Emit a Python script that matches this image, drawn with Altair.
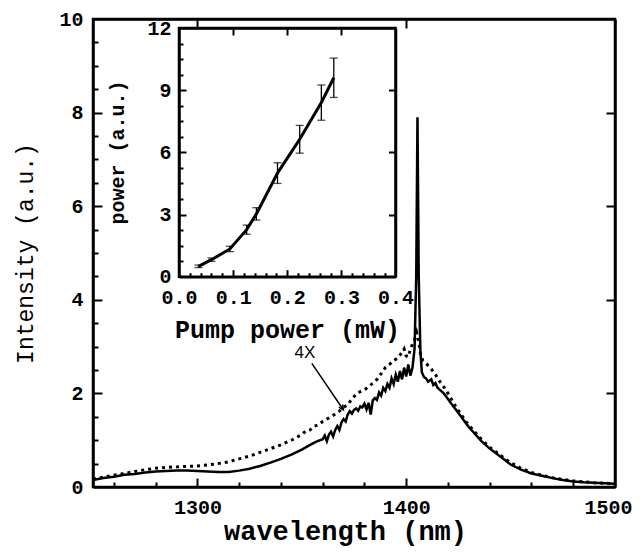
import altair as alt
import pandas as pd

MONO = "Liberation Mono"

# ---- main spectrum: solid curve (above threshold) ----
wl_solid = [1250, 1255, 1260, 1265, 1270, 1275, 1280, 1285, 1290, 1295, 1300, 1305, 1310, 1315,
            1320, 1325, 1330, 1335, 1340, 1345, 1350, 1354, 1357, 1360, 1361, 1362, 1363, 1364,
            1365, 1366, 1367, 1368, 1369, 1370, 1371, 1372, 1373, 1374, 1375, 1376, 1377, 1378,
            1379, 1380, 1381, 1382, 1383, 1384, 1385, 1386, 1387, 1388, 1389, 1390, 1391, 1392,
            1393, 1394, 1395, 1396, 1397, 1398, 1399, 1400, 1401, 1402, 1403, 1404, 1404.8,
            1405.4, 1406, 1406.8, 1407.5, 1408.5, 1409.5, 1410.5, 1412, 1413, 1414, 1415, 1416,
            1418, 1420, 1422, 1424, 1426, 1428, 1430, 1432, 1434, 1436, 1438, 1440, 1443, 1446,
            1450, 1455, 1460, 1465, 1470, 1475, 1480, 1485, 1490, 1495, 1500]
int_solid = [0.15, 0.19, 0.22, 0.26, 0.28, 0.31, 0.33, 0.34, 0.35, 0.35, 0.34, 0.33, 0.32, 0.32,
             0.35, 0.39, 0.45, 0.52, 0.60, 0.69, 0.80, 0.90, 0.97, 1.02, 1.10, 0.98, 1.12, 1.18,
             1.08, 1.22, 1.30, 1.22, 1.38, 1.45, 1.40, 1.55, 1.62, 1.57, 1.65, 1.68, 1.63, 1.72,
             1.70, 1.78, 1.66, 1.80, 1.55, 1.85, 1.90, 1.86, 2.02, 1.95, 2.12, 2.05, 2.20, 2.12,
             2.32, 2.20, 2.40, 2.25, 2.48, 2.30, 2.55, 2.36, 2.62, 2.38, 2.55, 2.95, 4.5,
             7.9, 4.5, 2.9, 2.45, 2.35, 2.32, 2.25, 2.30, 2.18, 2.22, 2.12, 2.08,
             2.00, 1.88, 1.76, 1.64, 1.52, 1.40, 1.28, 1.18, 1.08, 0.98, 0.90, 0.82, 0.72, 0.62,
             0.48, 0.37, 0.29, 0.24, 0.19, 0.15, 0.12, 0.10, 0.09, 0.08, 0.07]

# ---- main spectrum: dotted curve (4X, below threshold) ----
wl_dot = [1250, 1255, 1260, 1265, 1270, 1275, 1280, 1285, 1290, 1295, 1300, 1305, 1310, 1315,
          1320, 1325, 1330, 1335, 1340, 1345, 1350, 1352, 1354, 1356, 1358, 1360, 1362, 1364,
          1366, 1368, 1370, 1372, 1374, 1376, 1378, 1380, 1382, 1384, 1386, 1388, 1390, 1392,
          1394, 1396, 1398, 1399, 1400, 1401, 1402, 1403, 1404, 1405, 1406, 1407, 1408, 1410,
          1412, 1414, 1416, 1418, 1420, 1422, 1424, 1426, 1428, 1430, 1432, 1434, 1436, 1438,
          1440, 1443, 1446, 1450, 1455, 1460, 1465, 1470, 1475, 1480, 1485, 1490, 1495, 1500]
int_dot = [0.17, 0.21, 0.25, 0.29, 0.33, 0.37, 0.40, 0.42, 0.43, 0.44, 0.45, 0.47, 0.50, 0.54,
           0.60, 0.66, 0.74, 0.82, 0.90, 1.00, 1.12, 1.20, 1.22, 1.30, 1.33, 1.40, 1.45, 1.50,
           1.56, 1.62, 1.70, 1.76, 1.88, 1.98, 2.04, 2.08, 2.14, 2.22, 2.30, 2.42, 2.55, 2.62,
           2.70, 2.76, 2.88, 2.95, 2.80, 2.78, 2.95, 3.05, 3.15, 3.30, 3.10, 2.80, 2.70, 2.62,
           2.52, 2.40, 2.26, 2.14, 2.00, 1.85, 1.70, 1.57, 1.44, 1.32, 1.22, 1.12, 1.02, 0.93,
           0.85, 0.75, 0.65, 0.52, 0.40, 0.31, 0.25, 0.20, 0.16, 0.13, 0.11, 0.09, 0.08, 0.07]

# ---- inset: output power vs pump power ----
pump = [0.036, 0.060, 0.094, 0.125, 0.143, 0.182, 0.223, 0.263, 0.286]
outp = [0.50, 0.82, 1.34, 2.27, 3.03, 5.00, 6.63, 8.40, 9.60]
err = [0.06, 0.08, 0.13, 0.22, 0.30, 0.50, 0.67, 0.85, 0.95]

# annotation
note_text = ["4X"]
note_x = [1351.5]
note_y = [2.86]
arrow_x = [1354.8]
arrow_y = [2.64]
arrow_x2 = [1369.9]
arrow_y2 = [1.65]

# tick positions
main_x_labels = [1300, 1400, 1500]
main_y_labels = [0, 2, 4, 6, 8, 10]
main_x_major = [1300, 1400]
main_x_minor = [1260, 1280, 1320, 1340, 1360, 1380, 1420, 1440, 1460, 1480]
main_y_major = [2, 4, 6, 8]
main_y_minor = [0.5, 1, 1.5, 2.5, 3, 3.5, 4.5, 5, 5.5, 6.5, 7, 7.5, 8.5, 9, 9.5]
inset_x_labels = [0, 0.1, 0.2, 0.3, 0.4]
inset_y_labels = [0, 3, 6, 9, 12]
inset_x_major = [0.1, 0.2, 0.3]
inset_x_minor = [0.02, 0.04, 0.06, 0.08, 0.12, 0.14, 0.16, 0.18, 0.22, 0.24, 0.26, 0.28,
                 0.32, 0.34, 0.36, 0.38]
inset_y_major = [3, 6, 9]
inset_y_minor = [0.75, 1.5, 2.25, 3.75, 4.5, 5.25, 6.75, 7.5, 8.25, 9.75, 10.5, 11.25]

W, H = 522, 468
IX0, IX1 = 86, 302.5      # inset plot box (pixels inside the main plot area)
IY0, IY1 = 257.7, 9


def mx():
    return alt.Scale(domain=[1250, 1500], range=[0, W], nice=False, zero=False)


def my():
    return alt.Scale(domain=[0, 10], range=[H, 0], nice=False)


def ix():
    return alt.Scale(domain=[0, 0.4], range=[IX0, IX1], nice=False, zero=False)


def iy():
    return alt.Scale(domain=[0, 12], range=[IY0, IY1], nice=False)


def frame_axis(orient, offset, values, test, major, minor, width):
    # unlabelled axis used as a frame edge with inward ticks
    return alt.Axis(orient=orient, offset=offset, values=values, labels=False, title="",
                    grid=False, domain=True, domainColor="black", domainWidth=width,
                    ticks=True, tickColor="black", tickWidth=2,
                    tickSize=alt.condition(test, alt.value(major), alt.value(minor)),
                    zindex=1)


# ---------------- main panel ----------------
solid_df = pd.DataFrame({"wl": wl_solid, "val": int_solid})
dot_df = pd.DataFrame({"wl": wl_dot, "val": int_dot})

main_x_axis = alt.Axis(values=main_x_labels, format="d", orient="bottom", domain=False, ticks=False,
                       grid=False, labelFont=MONO, labelFontWeight="bold", labelFontSize=20,
                       labelPadding=10, labelFlush=True, labelFlushOffset=17, labelColor="black",
                       title="wavelength (nm)", titleFont=MONO, titleFontWeight="bold",
                       titleFontSize=27, titleColor="black", titleX=252, titleY=44,
                       titleBaseline="middle")
main_y_axis = alt.Axis(values=main_y_labels, format="d", orient="left", domain=False, ticks=False,
                       grid=False, labelFont=MONO, labelFontWeight="bold", labelFontSize=20,
                       labelPadding=10, labelFlush=False, labelColor="black",
                       title="Intensity (a.u.)", titleFont=MONO, titleFontWeight="normal",
                       titleFontSize=23, titleColor="black", titleX=-68, titleY=234,
                       titleAngle=270, titleBaseline="middle")

solid = alt.Chart(solid_df).mark_line(color="black", strokeWidth=2.5).encode(
    x=alt.X("wl:Q", scale=mx(), axis=main_x_axis),
    y=alt.Y("val:Q", scale=my(), axis=main_y_axis),
)
dotted = alt.Chart(dot_df).mark_line(color="black", strokeWidth=3, strokeDash=[3, 4]).encode(
    x=alt.X("wl:Q", scale=mx(), axis=None),
    y=alt.Y("val:Q", scale=my(), axis=None),
)

anchor_main = pd.DataFrame({"ax": [1250.0, 1500.0], "ay": [0.0, 10.0]})
main_frame_a = alt.Chart(anchor_main).mark_point(opacity=0).encode(
    x=alt.X("ax:Q", scale=mx(),
            axis=frame_axis("top", -H, main_x_major + main_x_minor,
                            "datum.value % 100 == 0", 9, 5, 2.5)),
    y=alt.Y("ay:Q", scale=my(),
            axis=frame_axis("right", -W, main_y_major + main_y_minor,
                            "datum.value % 2 == 0", 9, 5, 2.5)),
)
main_frame_b = alt.Chart(anchor_main).mark_point(opacity=0).encode(
    x=alt.X("ax:Q", scale=mx(),
            axis=frame_axis("bottom", -H, main_x_major, "datum.value % 100 == 0", 9, 5, 2.5)),
    y=alt.Y("ay:Q", scale=my(),
            axis=frame_axis("left", -W, main_y_major, "datum.value % 2 == 0", 9, 5, 2.5)),
)

note_df = pd.DataFrame({"nx": note_x, "ny": note_y, "t": note_text})
note = alt.Chart(note_df).mark_text(font="Liberation Sans", fontSize=17, color="black").encode(
    x=alt.X("nx:Q", scale=mx(), axis=None), y=alt.Y("ny:Q", scale=my(), axis=None), text="t:N"
)
arrow_df = pd.DataFrame({"ax": arrow_x, "ay": arrow_y, "ax2": arrow_x2, "ay2": arrow_y2})
arrow_line = alt.Chart(arrow_df).mark_rule(color="black", strokeWidth=1.5).encode(
    x=alt.X("ax:Q", scale=mx(), axis=None), x2="ax2:Q",
    y=alt.Y("ay:Q", scale=my(), axis=None), y2="ay2:Q",
)
arrow_head = alt.Chart(arrow_df).mark_point(
    shape="M -0.5 1 L 0 0 L 0.5 1", filled=False, color="black", strokeWidth=1.5,
    size=90, angle=146, opacity=1,
).encode(
    x=alt.X("ax2:Q", scale=mx(), axis=None), y=alt.Y("ay2:Q", scale=my(), axis=None)
)

# ---------------- inset panel ----------------
inset_x_axis = alt.Axis(values=inset_x_labels, format=".1f", orient="bottom", offset=-(H - IY0),
                        domain=False, ticks=False, grid=False, labelFont=MONO,
                        labelFontWeight="bold", labelFontSize=20, labelPadding=11,
                        labelFlush=False, labelColor="black", title="Pump power (mW)",
                        titleFont=MONO, titleFontWeight="bold", titleFontSize=25,
                        titleColor="black", titleX=194, titleY=53, titleBaseline="middle")
inset_y_axis = alt.Axis(values=inset_y_labels, format="d", orient="left", offset=-IX0,
                        domain=False, ticks=False, grid=False, labelFont=MONO,
                        labelFontWeight="bold", labelFontSize=20, labelPadding=8,
                        labelFlush=False, labelColor="black", title="power (a.u.)",
                        titleFont=MONO, titleFontWeight="bold", titleFontSize=20,
                        titleColor="black", titleX=-62, titleY=133, titleAngle=270,
                        titleBaseline="middle")

frame_df = pd.DataFrame({"x": [0.0], "x2": [0.4], "y": [0.0], "y2": [12.0]})
frame = alt.Chart(frame_df).mark_rect(fill="white", stroke="black", strokeWidth=2.5).encode(
    x=alt.X("x:Q", scale=ix(), axis=inset_x_axis), x2="x2:Q",
    y=alt.Y("y:Q", scale=iy(), axis=inset_y_axis), y2="y2:Q",
)

anchor_inset = pd.DataFrame({"bx": [0.0, 0.4], "by": [0.0, 12.0]})
inset_frame_a = alt.Chart(anchor_inset).mark_point(opacity=0).encode(
    x=alt.X("bx:Q", scale=ix(),
            axis=frame_axis("top", -IY0, inset_x_major + inset_x_minor,
                            "abs(datum.value * 10 - round(datum.value * 10)) < 0.001", 7, 4, 2.5)),
    y=alt.Y("by:Q", scale=iy(),
            axis=frame_axis("right", -(W - IX0), inset_y_major + inset_y_minor,
                            "datum.value % 3 == 0", 7, 4, 2.5)),
)
inset_frame_b = alt.Chart(anchor_inset).mark_point(opacity=0).encode(
    x=alt.X("bx:Q", scale=ix(),
            axis=frame_axis("bottom", -(H - IY1), inset_x_major,
                            "datum.value > 0", 7, 4, 2.5)),
    y=alt.Y("by:Q", scale=iy(),
            axis=frame_axis("left", -IX1, inset_y_major, "datum.value % 3 == 0", 7, 4, 2.5)),
)

pw_df = pd.DataFrame({"p": pump, "o": outp, "lo": [o - e for o, e in zip(outp, err)],
                      "hi": [o + e for o, e in zip(outp, err)]})
pw_line = alt.Chart(pw_df).mark_line(color="black", strokeWidth=3).encode(
    x=alt.X("p:Q", scale=ix(), axis=None), y=alt.Y("o:Q", scale=iy(), axis=None)
)
pw_err = alt.Chart(pw_df).mark_rule(color="black", strokeWidth=1.3).encode(
    x=alt.X("p:Q", scale=ix(), axis=None), y=alt.Y("lo:Q", scale=iy(), axis=None), y2="hi:Q"
)
pw_cap_lo = alt.Chart(pw_df).mark_tick(color="black", thickness=1.3, size=8, orient="horizontal").encode(
    x=alt.X("p:Q", scale=ix(), axis=None), y=alt.Y("lo:Q", scale=iy(), axis=None)
)
pw_cap_hi = alt.Chart(pw_df).mark_tick(color="black", thickness=1.3, size=8, orient="horizontal").encode(
    x=alt.X("p:Q", scale=ix(), axis=None), y=alt.Y("hi:Q", scale=iy(), axis=None)
)

chart = alt.layer(
    solid, dotted, arrow_line, arrow_head, note, main_frame_a, main_frame_b,
    frame, pw_err, pw_cap_lo, pw_cap_hi, pw_line, inset_frame_a, inset_frame_b,
).resolve_scale(x="independent", y="independent").properties(
    width=W, height=H,
    padding={"left": 85, "top": 11, "right": 19, "bottom": 59},
    autosize=alt.AutoSizeParams(type="none"),
    background="white",
).configure_view(stroke="black", strokeWidth=2.5)

chart.save("out.html", embed_options={"renderer": "svg", "actions": False})
